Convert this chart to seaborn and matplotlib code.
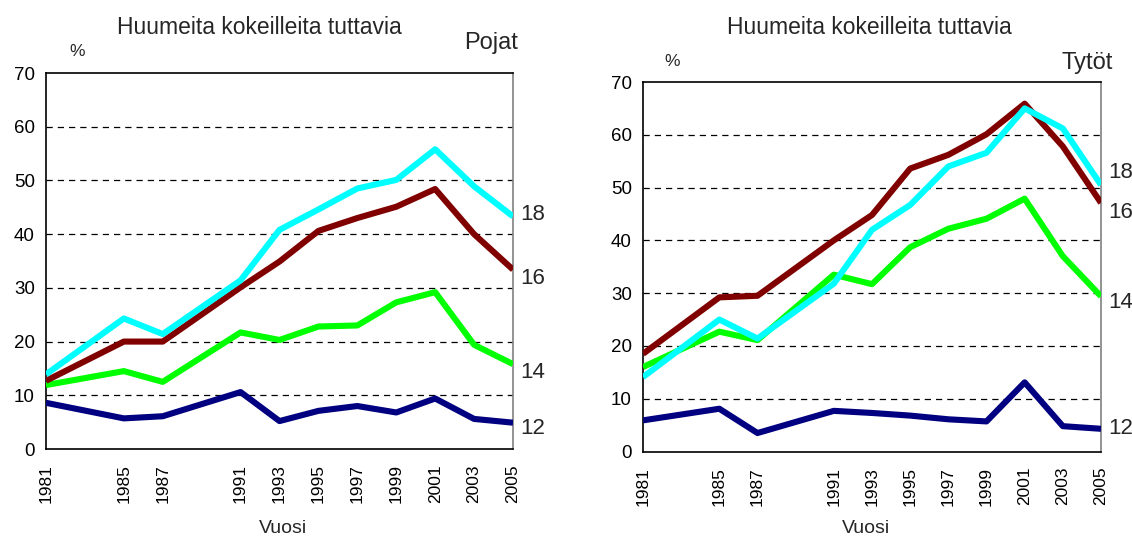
import numpy as np
import pandas as pd
import matplotlib
matplotlib.use('Agg')
import seaborn as sns
import matplotlib.pyplot as plt

# survey years (no data for 1983 and 1989)
years = [1981, 1985, 1987, 1991, 1993, 1995, 1997, 1999, 2001, 2003, 2005]
ages = ['12', '14', '16', '18']

# boys (Pojat), % who know drug experimenters
boys_12 = [8.6, 5.7, 6.1, 10.6, 5.2, 7.1, 8.0, 6.8, 9.4, 5.6, 4.9]
boys_14 = [11.9, 14.5, 12.5, 21.7, 20.3, 22.8, 23.0, 27.3, 29.2, 19.4, 15.8]
boys_16 = [12.7, 20.0, 20.0, 30.1, 34.9, 40.6, 43.0, 45.1, 48.4, 40.0, 33.4]
boys_18 = [13.9, 24.3, 21.4, 31.4, 40.8, 44.6, 48.5, 50.1, 55.8, 48.9, 43.3]

# girls (Tytöt)
girls_12 = [5.9, 8.1, 3.5, 7.7, 7.3, 6.8, 6.1, 5.7, 13.1, 4.8, 4.3]
girls_14 = [16.0, 22.7, 21.1, 33.5, 31.7, 38.7, 42.2, 44.1, 47.9, 37.0, 29.4]
girls_16 = [18.5, 29.2, 29.5, 40.0, 44.8, 53.6, 56.2, 60.1, 65.9, 57.8, 47.1]
girls_18 = [14.1, 25.0, 21.4, 31.8, 42.0, 46.7, 54.0, 56.6, 65.0, 61.2, 50.5]

tick_years = list(range(1981, 2006, 2))
tick_labels = [str(y) if y in years else '' for y in tick_years]

palette = {'12': '#000080', '14': '#00FF00', '16': '#800000', '18': '#00FFFF'}


def long_form(series):
    rows = []
    for age, vals in zip(ages, series):
        for y, v in zip(years, vals):
            rows.append({'year': y, 'pct': v, 'age': age})
    return pd.DataFrame(rows)


boys = long_form([boys_12, boys_14, boys_16, boys_18])
girls = long_form([girls_12, girls_14, girls_16, girls_18])

sns.set_style('white')
plt.rcParams['font.family'] = ['Liberation Sans', 'DejaVu Sans']

fig = plt.figure(figsize=(11.32, 5.37), dpi=100)
W, H = 1132, 537
ax1 = fig.add_axes([46 / W, 1 - 449 / H, 467 / W, 376 / H])
ax2 = fig.add_axes([643 / W, 1 - 451.5 / H, 458 / W, 369.5 / H])


def draw(ax, df, label_y):
    sns.lineplot(data=df, x='year', y='pct', hue='age', palette=palette,
                 hue_order=ages, linewidth=4.4, legend=False, ax=ax,
                 solid_joinstyle='round', solid_capstyle='butt', zorder=3)
    ax.set_xlim(1981, 2005)
    ax.set_ylim(0, 70)
    ax.set_yticks(range(0, 71, 10))
    ax.set_xticks(tick_years)
    ax.set_xticklabels(tick_labels, rotation=90)
    ax.set_xlabel('')
    ax.set_ylabel('')
    for y in range(10, 70, 10):
        ax.axhline(y, color='black', lw=0.9, ls=(0, (5, 4)), zorder=1)
    ax.tick_params(axis='x', direction='inout', length=10, width=1,
                   labelsize=12.5, pad=6, colors='black')
    ax.tick_params(axis='y', direction='inout', length=8, width=1,
                   labelsize=13.5, pad=4, colors='black')
    for s in ['left', 'bottom', 'top']:
        ax.spines[s].set_color('black')
        ax.spines[s].set_linewidth(1.2)
    ax.spines['right'].set_color('#808080')
    ax.spines['right'].set_linewidth(1.2)
    for age, yv in zip(ages, label_y):
        ax.annotate(age, xy=(2005, yv), xytext=(5, 0), textcoords='offset points',
                    fontsize=16, va='center', ha='left', annotation_clip=False)


draw(ax1, boys, [3.9, 14.2, 31.8, 43.6])
draw(ax2, girls, [4.4, 28.3, 45.2, 52.9])

fig.text(259 / W, 1 - 27 / H, 'Huumeita kokeilleita tuttavia', fontsize=16.5,
         ha='center', va='center')
fig.text(869 / W, 1 - 27 / H, 'Huumeita kokeilleita tuttavia', fontsize=16.5,
         ha='center', va='center')
fig.text(518 / W, 1 - 43 / H, 'Pojat', fontsize=17, ha='right', va='center')
fig.text(1113 / W, 1 - 63 / H, 'Tytöt', fontsize=17, ha='right', va='center')
fig.text(77 / W, 1 - 52 / H, '%', fontsize=12.5, ha='center', va='center')
fig.text(672 / W, 1 - 62 / H, '%', fontsize=12.5, ha='center', va='center')
fig.text(283 / W, 1 - 520 / H, 'Vuosi', fontsize=14, ha='center', va='top')
fig.text(866 / W, 1 - 520 / H, 'Vuosi', fontsize=14, ha='center', va='top')

fig.savefig('out.png', dpi=100)
